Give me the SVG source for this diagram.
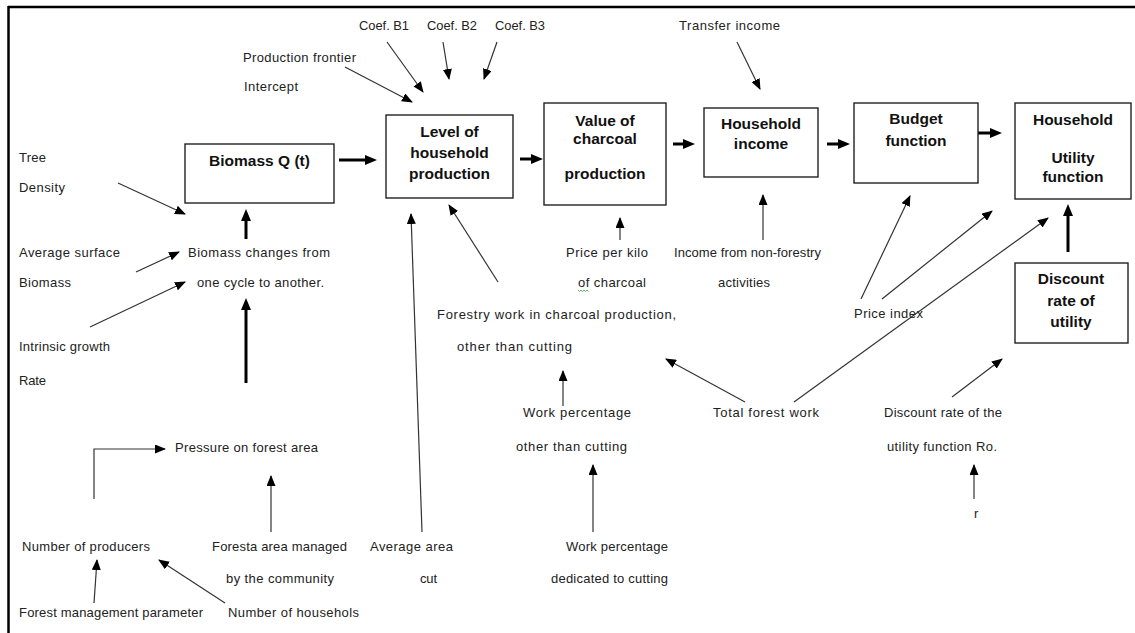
<svg xmlns="http://www.w3.org/2000/svg" width="1135" height="633" viewBox="0 0 1135 633">
<style>
.t{font-family:"Liberation Sans",Arial,sans-serif;font-size:13px;fill:#222;}
.b{font-family:"Liberation Sans",Arial,sans-serif;font-size:15.5px;font-weight:bold;fill:#111;text-anchor:middle;}
.box{fill:#fff;stroke:#222;stroke-width:1.4;}
.thin{fill:none;stroke:#333;stroke-width:1.2;marker-end:url(#ah);}
.thick{fill:none;stroke:#000;stroke-width:3;marker-end:url(#ahb);}
</style>
<defs>
<marker id="ah" markerUnits="userSpaceOnUse" markerWidth="11" markerHeight="9" refX="10" refY="4.5" orient="auto">
<path d="M0,0 L11,4.5 L0,9 z" fill="#000"/>
</marker>
<marker id="ahb" markerUnits="userSpaceOnUse" markerWidth="12" markerHeight="10" refX="5" refY="5" orient="auto">
<path d="M0,0 L12,5 L0,10 z" fill="#000"/>
</marker>
</defs>
<rect width="1135" height="633" fill="#fff"/>
<g id="frame">
<line x1="8" y1="7" x2="1135" y2="7" stroke="#000" stroke-width="2.5"/>
<line x1="8.5" y1="6" x2="8.5" y2="633" stroke="#000" stroke-width="2.5"/>
</g>

<g id="connectors">
<!-- thick -->
<path class="thick" d="M339,160 L370,160"/>
<path class="thick" d="M520,159 L536,159"/>
<path class="thick" d="M673,144 L688,144"/>
<path class="thick" d="M827,144 L843,144"/>
<path class="thick" d="M978,133 L995,133"/>
<path class="thick" d="M1068,252 L1068,211"/>
<path class="thick" d="M246,239 L246,216"/>
<path class="thick" d="M246,383 L246,305"/>
<!-- thin -->
<path class="thin" d="M118,183 L185,214"/>
<path class="thin" d="M136,272 L179,252"/>
<path class="thin" d="M90,327 L185,282"/>
<path class="thin" d="M345,67 L412,102"/>
<path class="thin" d="M387,42 L423,92"/>
<path class="thin" d="M443,42 L449,79"/>
<path class="thin" d="M497,42 L484,79"/>
<path class="thin" d="M737,42 L760,89"/>
<path class="thin" d="M498,282 L449,205"/>
<path class="thin" d="M422,532 L411,214"/>
<path class="thin" d="M620,240 L620,218"/>
<path class="thin" d="M763,240 L763,195"/>
<path class="thin" d="M861,299 L910,196"/>
<path class="thin" d="M882,299 L992,211"/>
<path class="thin" d="M794,402 L1048,218"/>
<path class="thin" d="M745,402 L666,359"/>
<path class="thin" d="M563,406 L563,371"/>
<path class="thin" d="M952,397 L1002,359"/>
<path class="thin" d="M593,532 L593,465"/>
<path class="thin" d="M974,499 L974,465"/>
<path class="thin" d="M94,499 L94,449 L165,449"/>
<path class="thin" d="M271,532 L271,476"/>
<path class="thin" d="M94,603 L97,560"/>
<path class="thin" d="M225,603 L159,560"/>
</g>

<g id="n-biomass">
<rect class="box" x="185" y="144" width="149" height="59"/>
<text class="b" x="259.5" y="166">Biomass Q (t)</text>
</g>
<g id="n-level">
<rect class="box" x="386" y="115" width="127" height="83"/>
<text class="b" x="449.5" y="137">Level of</text>
<text class="b" x="449.5" y="158">household</text>
<text class="b" x="449.5" y="179">production</text>
</g>
<g id="n-value">
<rect class="box" x="544" y="103" width="122" height="102"/>
<text class="b" x="605" y="126">Value of</text>
<text class="b" x="605" y="144">charcoal</text>
<text class="b" x="605" y="179">production</text>
</g>
<g id="n-income">
<rect class="box" x="704" y="108" width="114" height="69"/>
<text class="b" x="761" y="129">Household</text>
<text class="b" x="761" y="149">income</text>
</g>
<g id="n-budget">
<rect class="box" x="854" y="103" width="124" height="80"/>
<text class="b" x="916" y="124">Budget</text>
<text class="b" x="916" y="146">function</text>
</g>
<g id="n-utility">
<rect class="box" x="1015" y="103" width="116" height="96"/>
<text class="b" x="1073" y="125">Household</text>
<text class="b" x="1073" y="163">Utility</text>
<text class="b" x="1073" y="182">function</text>
</g>
<g id="n-discount">
<rect class="box" x="1015" y="263" width="113" height="80"/>
<text class="b" x="1071" y="284">Discount</text>
<text class="b" x="1071" y="306">rate of</text>
<text class="b" x="1071" y="327">utility</text>
</g>

<g id="labels">
<text class="t" x="359" y="30" textLength="50" lengthAdjust="spacingAndGlyphs">Coef. B1</text>
<text class="t" x="427" y="30" textLength="50" lengthAdjust="spacingAndGlyphs">Coef. B2</text>
<text class="t" x="495" y="30" textLength="50" lengthAdjust="spacingAndGlyphs">Coef. B3</text>
<text class="t" x="679" y="30" textLength="101" lengthAdjust="spacing">Transfer  income</text>
<text class="t" x="243" y="62" textLength="113" lengthAdjust="spacing">Production frontier</text>
<text class="t" x="244" y="91" textLength="54" lengthAdjust="spacing">Intercept</text>
<text class="t" x="19" y="162" textLength="27" lengthAdjust="spacing">Tree</text>
<text class="t" x="19" y="192" textLength="46" lengthAdjust="spacing">Density</text>
<text class="t" x="19" y="257" textLength="101" lengthAdjust="spacing">Average  surface</text>
<text class="t" x="19" y="287" textLength="52" lengthAdjust="spacing">Biomass</text>
<text class="t" x="188" y="257" textLength="142" lengthAdjust="spacing">Biomass  changes  from</text>
<text class="t" x="197" y="287" textLength="127" lengthAdjust="spacing">one cycle  to another.</text>
<text class="t" x="19" y="351" textLength="91" lengthAdjust="spacing">Intrinsic growth</text>
<text class="t" x="19" y="385" textLength="27" lengthAdjust="spacing">Rate</text>
<text class="t" x="566" y="257" textLength="82" lengthAdjust="spacing">Price per  kilo</text>
<text class="t" x="674" y="257" textLength="147" lengthAdjust="spacing">Income from non-forestry</text>
<text class="t" x="578" y="287" textLength="68" lengthAdjust="spacing">of charcoal</text>
<path d="M578,290 l1.5,1.5 l1.5,-1.5 l1.5,1.5 l1.5,-1.5 l1.5,1.5 l1.5,-1.5 l1.5,1.5" fill="none" stroke="#3a3" stroke-width="0.8"/>
<text class="t" x="718" y="287" textLength="52" lengthAdjust="spacing">activities</text>
<text class="t" x="437" y="319" textLength="239" lengthAdjust="spacing">Forestry work in charcoal  production,</text>
<text class="t" x="457" y="351" textLength="115" lengthAdjust="spacing">other than  cutting</text>
<text class="t" x="854" y="318" textLength="69" lengthAdjust="spacing">Price index</text>
<text class="t" x="523" y="417" textLength="108" lengthAdjust="spacing">Work  percentage</text>
<text class="t" x="713" y="417" textLength="106" lengthAdjust="spacing">Total  forest  work</text>
<text class="t" x="884" y="417" textLength="118" lengthAdjust="spacing">Discount rate of the</text>
<text class="t" x="516" y="451" textLength="111" lengthAdjust="spacing">other than  cutting</text>
<text class="t" x="887" y="451" textLength="110" lengthAdjust="spacing">utility function  Ro.</text>
<text class="t" x="175" y="452" textLength="143" lengthAdjust="spacing">Pressure on  forest area</text>
<text class="t" x="974" y="518">r</text>
<text class="t" x="22" y="551" textLength="128" lengthAdjust="spacing">Number of  producers</text>
<text class="t" x="212" y="551" textLength="135" lengthAdjust="spacing">Foresta area managed</text>
<text class="t" x="370" y="551" textLength="83" lengthAdjust="spacing">Average  area</text>
<text class="t" x="566" y="551" textLength="102" lengthAdjust="spacing">Work percentage</text>
<text class="t" x="226" y="583" textLength="108" lengthAdjust="spacing">by the  community</text>
<text class="t" x="420" y="583" textLength="17" lengthAdjust="spacing">cut</text>
<text class="t" x="551" y="583" textLength="117" lengthAdjust="spacing">dedicated to cutting</text>
<text class="t" x="19" y="617" textLength="184" lengthAdjust="spacing">Forest management parameter</text>
<text class="t" x="228" y="617" textLength="131" lengthAdjust="spacing">Number of  househols</text>
</g>
</svg>
